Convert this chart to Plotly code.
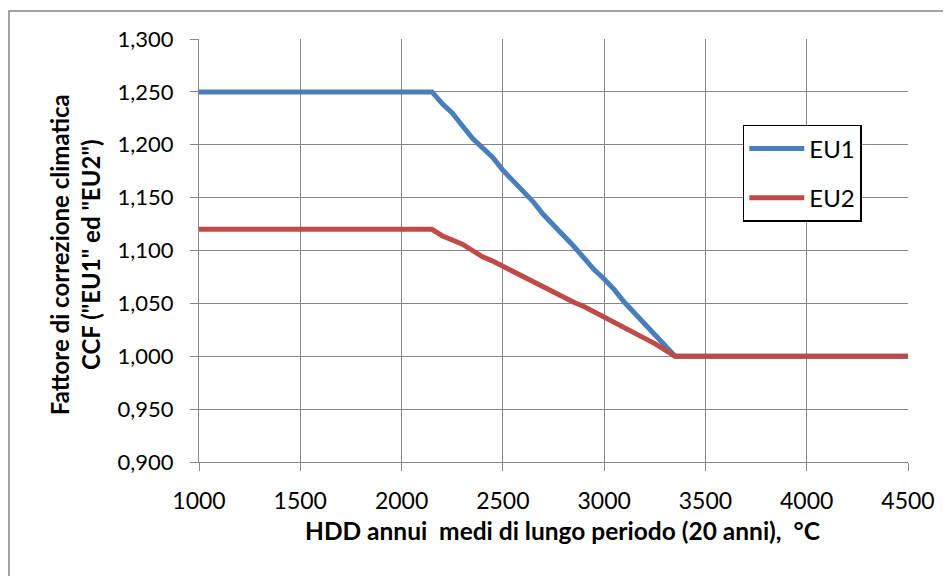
import plotly.graph_objects as go

# HDD annui medi (x) e fattori di correzione climatica
hdd = [1000, 1500, 2000, 2150, 2200, 2250, 2300, 2350, 2400, 2450, 2500, 2550,
       2600, 2650, 2700, 2750, 2800, 2850, 2900, 2950, 3000, 3050, 3100, 3150,
       3200, 3250, 3300, 3350, 3500, 4000, 4500]
ccf_eu1 = [1.250, 1.250, 1.250, 1.250, 1.239, 1.230, 1.218, 1.206, 1.197, 1.188,
           1.176, 1.166, 1.157, 1.146, 1.134, 1.124, 1.115, 1.104, 1.093, 1.082,
           1.073, 1.063, 1.051, 1.041, 1.031, 1.020, 1.010, 1.000, 1.000, 1.000,
           1.000]
ccf_eu2 = [1.120, 1.120, 1.120, 1.120, 1.114, 1.110, 1.106, 1.100, 1.094, 1.090,
           1.085, 1.080, 1.076, 1.071, 1.065, 1.061, 1.056, 1.051, 1.047, 1.042,
           1.037, 1.033, 1.027, 1.022, 1.018, 1.012, 1.006, 1.000, 1.000, 1.000,
           1.000]

x_ticks = [1000, 1500, 2000, 2500, 3000, 3500, 4000, 4500]
y_ticks = [0.900, 0.950, 1.000, 1.050, 1.100, 1.150, 1.200, 1.250, 1.300]
y_tick_labels = ["0,900", "0,950", "1,000", "1,050", "1,100", "1,150",
                 "1,200", "1,250", "1,300"]

FONT = "Lato, 'Open Sans', sans-serif"
GRID = "#878787"

fig = go.Figure()

fig.add_trace(
    go.Scatter(
        x=hdd,
        y=ccf_eu1,
        mode="lines",
        name="EU1",
        legendgroup="eu1",
        line={"color": "#4A7EBB", "width": 5},
    )
)
fig.add_trace(
    go.Scatter(
        x=hdd,
        y=ccf_eu2,
        mode="lines",
        name="EU2",
        legendgroup="eu2",
        line={"color": "#BE4B48", "width": 5},
    )
)

fig.update_layout(
    width=943,
    height=568,
    margin={"l": 191, "r": 43, "t": 31, "b": 114},
    paper_bgcolor="#ffffff",
    plot_bgcolor="#ffffff",
    font={"family": FONT, "size": 22, "color": "#000000"},
    showlegend=True,
    legend={
        "x": 0.767,
        "y": 0.797,
        "xanchor": "left",
        "yanchor": "top",
        "bgcolor": "#ffffff",
        "bordercolor": "#000000",
        "borderwidth": 1.5,
        "font": {"family": FONT, "size": 24},
        "tracegroupgap": 15,
        "itemwidth": 55,
    },
    xaxis={
        "range": [1000, 4500],
        "tickvals": x_ticks,
        "ticktext": [str(v) for v in x_ticks],
        "showgrid": True,
        "gridcolor": GRID,
        "gridwidth": 1.3,
        "showline": True,
        "linecolor": GRID,
        "linewidth": 1.3,
        "ticks": "outside",
        "ticklen": 8,
        "tickcolor": GRID,
        "tickwidth": 1.3,
        "zeroline": False,
        "ticklabelstandoff": 10,
        "tickfont": {"size": 23},
    },
    yaxis={
        "range": [0.9, 1.3],
        "tickvals": y_ticks,
        "ticktext": y_tick_labels,
        "showgrid": True,
        "gridcolor": GRID,
        "gridwidth": 1.3,
        "showline": True,
        "linecolor": GRID,
        "linewidth": 1.3,
        "ticks": "outside",
        "ticklen": 8,
        "tickcolor": GRID,
        "tickwidth": 1.3,
        "zeroline": False,
        "ticklabelstandoff": 12,
        "tickfont": {"size": 22},
    },
)

# titoli degli assi
fig.add_annotation(
    x=0.512, y=-0.163, xref="paper", yref="paper",
    xanchor="center", yanchor="middle",
    text="<b>HDD annui  medi di lungo periodo (20 anni),  °C</b>",
    showarrow=False, font={"size": 24.5},
)
fig.add_annotation(
    x=-0.1756, y=0.49, xref="paper", yref="paper",
    xanchor="center", yanchor="middle", textangle=-90,
    text="<b>Fattore di correzione climatica<br>CCF (\"EU1\" ed \"EU2\")</b>",
    showarrow=False, font={"size": 24},
)

# bordo dell'area del grafico
fig.add_shape(
    type="rect", xref="paper", yref="paper",
    x0=-0.268, x1=1.3, y0=-0.5, y1=1.066,
    line={"color": GRID, "width": 1.5},
    layer="below",
)

fig.write_html("out.html")
